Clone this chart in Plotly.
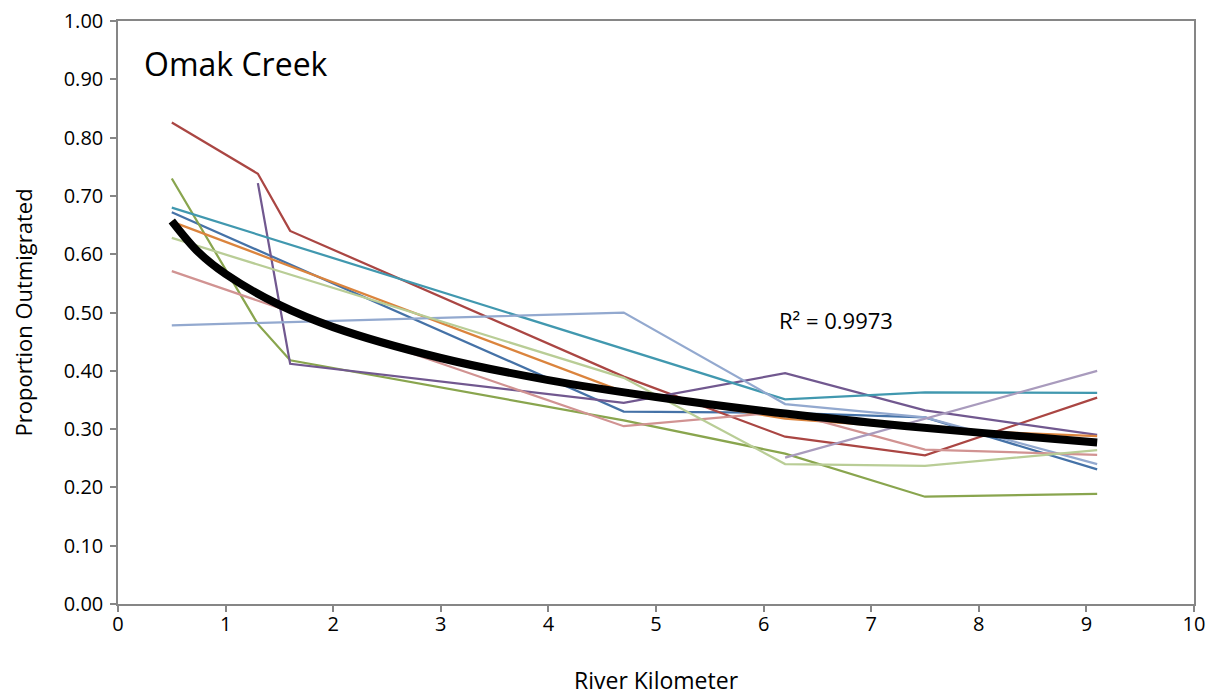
import plotly.graph_objects as go

# River kilometre sample sites
rkm = [0.5, 1.3, 1.6, 4.7, 6.2, 7.5, 9.1]

# Proportion outmigrated per year (None = no data at that site)
s_blue      = [0.672, None, None, 0.330, 0.328, 0.320, 0.231]
s_red       = [0.826, 0.738, 0.640, 0.390, 0.287, 0.255, 0.354]
s_green     = [0.730, 0.480, 0.418, 0.315, 0.258, 0.184, 0.189]
s_purple    = [None, 0.722, 0.412, 0.345, 0.396, 0.332, 0.290]
s_teal      = [0.680, None, None, 0.437, 0.351, 0.363, 0.362]
s_orange    = [0.656, None, None, 0.364, 0.318, 0.300, 0.288]
s_lightblue = [0.478, None, None, 0.500, 0.343, 0.320, 0.240]
s_pink      = [0.571, None, None, 0.305, 0.330, 0.265, 0.256]
s_lightgrn  = [0.628, None, None, 0.388, 0.240, 0.237, 0.264]
s_lavender  = [None, None, None, None, 0.251, None, 0.400]

# Trend line values
trend_x = [0.5, 0.75, 1.0, 1.5, 2.0, 3.0, 4.0, 5.0, 6.0, 7.0, 8.0, 9.1]
trend_y = [0.657, 0.603, 0.566, 0.513, 0.475, 0.422, 0.384, 0.355, 0.331, 0.311, 0.294, 0.277]

series = [
    (s_blue, "#4572A7"),
    (s_red, "#AA4643"),
    (s_green, "#89A54E"),
    (s_purple, "#71588F"),
    (s_teal, "#4198AF"),
    (s_orange, "#DB843D"),
    (s_lightblue, "#93A9CF"),
    (s_pink, "#D19392"),
    (s_lightgrn, "#B9CD96"),
    (s_lavender, "#A99BBD"),
]

fig = go.Figure()
for vals, col in series:
    xs = [x for x, v in zip(rkm, vals) if v is not None]
    ys = [v for v in vals if v is not None]
    fig.add_trace(go.Scatter(x=xs, y=ys, mode="lines",
                             line=dict(color=col, width=2.25), showlegend=False,
                             hoverinfo="skip"))

fig.add_trace(go.Scatter(x=trend_x, y=trend_y, mode="lines",
                         line=dict(color="black", width=8, shape="spline"),
                         showlegend=False))

font_family = "Open Sans, Liberation Sans, sans-serif"
axis_common = dict(showgrid=False, zeroline=False, showline=True,
                   linecolor="#868686", linewidth=1.5, mirror=True,
                   ticks="outside", ticklen=6, tickcolor="#868686", tickwidth=1.5,
                   automargin=False, ticklabeloverflow="allow",
                   tickfont=dict(size=20, color="black", family=font_family))

fig.update_layout(
    width=1219, height=696,
    margin=dict(l=110, r=33, t=13, b=100),
    plot_bgcolor="white", paper_bgcolor="white",
    font=dict(family=font_family, color="black"),
    xaxis=dict(range=[0, 10], dtick=1, ticklabelstandoff=-5, **axis_common),
    yaxis=dict(range=[0, 1.0001], tickvals=[i / 10 for i in range(11)],
               tickformat=".2f", ticklabelstandoff=3, **axis_common),
    annotations=[
        dict(x=0.022, y=0.927, xref="paper", yref="paper", text="Omak Creek",
             showarrow=False, xanchor="left", yanchor="middle",
             font=dict(size=32, color="black")),
        dict(x=6.12, y=0.487, xref="x", yref="y", text="R² = 0.9973",
             showarrow=False, xanchor="left", yanchor="middle",
             font=dict(size=22, color="black")),
        dict(x=0.5, y=0, xref="paper", yref="paper", text="River Kilometer",
             showarrow=False, xanchor="center", yanchor="middle", yshift=-76,
             font=dict(size=23, color="black")),
        dict(x=0, y=0.5, xref="paper", yref="paper", text="Proportion Outmigrated",
             showarrow=False, xanchor="center", yanchor="middle", xshift=-96,
             textangle=-90, font=dict(size=22, color="black")),
    ],
)

fig.write_html("out.html")
